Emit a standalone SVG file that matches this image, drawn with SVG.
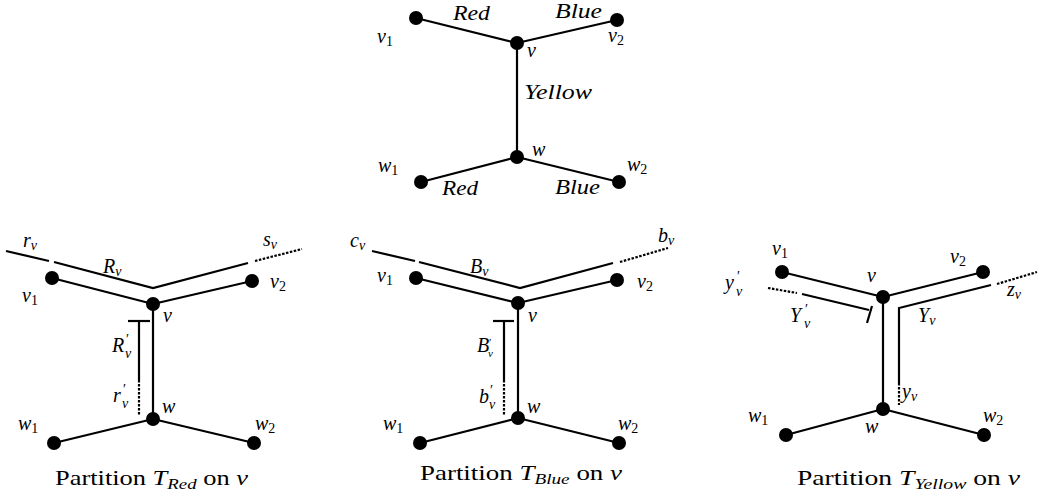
<svg xmlns="http://www.w3.org/2000/svg" width="1038" height="496" viewBox="0 0 1038 496">
<style>
.e{stroke:#000;stroke-width:2.2;fill:none;stroke-linecap:butt}
.d{stroke:#000;stroke-width:2.2;fill:none;stroke-dasharray:2.5,1.5}
.n{fill:#000}
.m{font-family:'Liberation Serif','DejaVu Serif','Times New Roman',serif;font-style:italic;font-size:20px;fill:#000}
.s{font-size:14px;font-style:normal}
.si{font-size:14px}
.p{font-size:14px;font-style:normal}
.c{font-family:'Liberation Serif','DejaVu Serif','Times New Roman',serif;font-size:21px;fill:#000}
</style>
<rect width="1038" height="496" fill="#fff"/>
<g id="connectors">
<line class="e" x1="416" y1="18" x2="517" y2="43"/>
<line class="e" x1="517" y1="43" x2="617" y2="20"/>
<line class="e" x1="517" y1="43" x2="517" y2="157"/>
<line class="e" x1="517" y1="157" x2="421" y2="182"/>
<line class="e" x1="517" y1="157" x2="619" y2="182"/>
<line class="e" x1="52" y1="278" x2="153" y2="304"/>
<line class="e" x1="153" y1="304" x2="252" y2="281"/>
<line class="e" x1="153" y1="304" x2="153" y2="419"/>
<line class="e" x1="153" y1="419" x2="54" y2="443"/>
<line class="e" x1="153" y1="419" x2="254" y2="443"/>
<line class="e" x1="6" y1="251" x2="49" y2="261"/>
<polyline class="e" points="54,262 153,288 248,263"/>
<line class="d" x1="255" y1="261" x2="302" y2="249"/>
<line class="e" x1="139" y1="321" x2="139" y2="380"/>
<line class="d" x1="139" y1="380" x2="139" y2="415"/>
<line class="e" x1="128" y1="321" x2="150" y2="321"/>
<line class="e" x1="416" y1="278" x2="518" y2="303"/>
<line class="e" x1="518" y1="303" x2="617" y2="280"/>
<line class="e" x1="518" y1="303" x2="518" y2="418"/>
<line class="e" x1="518" y1="418" x2="420" y2="443"/>
<line class="e" x1="518" y1="418" x2="619" y2="443"/>
<line class="e" x1="372" y1="251" x2="415" y2="261"/>
<polyline class="e" points="419,262 520,288 613,263"/>
<line class="d" x1="620" y1="262" x2="668" y2="248"/>
<line class="e" x1="504" y1="321" x2="504" y2="380"/>
<line class="d" x1="504" y1="380" x2="504" y2="415"/>
<line class="e" x1="493" y1="321" x2="514" y2="321"/>
<line class="e" x1="782" y1="272" x2="883" y2="297"/>
<line class="e" x1="883" y1="297" x2="983" y2="272"/>
<line class="e" x1="883" y1="297" x2="883" y2="409"/>
<line class="e" x1="883" y1="409" x2="786" y2="435"/>
<line class="e" x1="883" y1="409" x2="984" y2="435"/>
<line class="d" x1="768" y1="288" x2="797" y2="293"/>
<line class="e" x1="802" y1="294" x2="869" y2="310"/>
<line class="e" x1="872" y1="306" x2="867" y2="323"/>
<polyline class="e" points="899,383 899,308 991,285"/>
<line class="d" x1="899" y1="383" x2="899" y2="405"/>
<line class="d" x1="997" y1="284" x2="1037" y2="272"/>
</g>
<g id="top-nodes">
<g id="t-v1"><circle class="n" cx="416" cy="18" r="7"/><text class="m" x="377" y="43">v<tspan class="s" dy="3">1</tspan></text></g>
<g id="t-v"><circle class="n" cx="517" cy="43" r="7"/><text class="m" x="527" y="57">v</text></g>
<g id="t-v2"><circle class="n" cx="617" cy="20" r="7"/><text class="m" x="608" y="42">v<tspan class="s" dy="3">2</tspan></text></g>
<g id="t-w"><circle class="n" cx="517" cy="157" r="7"/><text class="m" x="532" y="156">w</text></g>
<g id="t-w1"><circle class="n" cx="421" cy="182" r="7"/><text class="m" x="378" y="172">w<tspan class="s" dy="3">1</tspan></text></g>
<g id="t-w2"><circle class="n" cx="619" cy="182" r="7"/><text class="m" x="627" y="171">w<tspan class="s" dy="3">2</tspan></text></g>
<text class="m" x="453" y="20" textLength="37" lengthAdjust="spacingAndGlyphs">Red</text>
<text class="m" x="555" y="18" textLength="47" lengthAdjust="spacingAndGlyphs">Blue</text>
<text class="m" x="524" y="99" textLength="68" lengthAdjust="spacingAndGlyphs">Yellow</text>
<text class="m" x="442" y="195" textLength="36" lengthAdjust="spacingAndGlyphs">Red</text>
<text class="m" x="555" y="194" textLength="45" lengthAdjust="spacingAndGlyphs">Blue</text>
</g>
<g id="left-nodes">
<g id="l-v1"><circle class="n" cx="52" cy="278" r="7"/><text class="m" x="22" y="302">v<tspan class="s" dy="3">1</tspan></text></g>
<g id="l-v"><circle class="n" cx="153" cy="304" r="7"/><text class="m" x="163" y="322">v</text></g>
<g id="l-v2"><circle class="n" cx="252" cy="281" r="7"/><text class="m" x="270" y="288">v<tspan class="s" dy="3">2</tspan></text></g>
<g id="l-w"><circle class="n" cx="153" cy="419" r="7"/><text class="m" x="162" y="413">w</text></g>
<g id="l-w1"><circle class="n" cx="54" cy="443" r="7"/><text class="m" x="18" y="430">w<tspan class="s" dy="3">1</tspan></text></g>
<g id="l-w2"><circle class="n" cx="254" cy="443" r="7"/><text class="m" x="255" y="430">w<tspan class="s" dy="3">2</tspan></text></g>
<text class="m" x="23" y="247">r<tspan class="si" dy="3">v</tspan></text>
<text class="m" x="263" y="246">s<tspan class="si" dy="3">v</tspan></text>
<text class="m" x="103" y="273">R<tspan class="si" dy="3">v</tspan></text>
<text class="m" x="112" y="352">R<tspan class="p" x="126" dy="-8">′</tspan><tspan class="si" x="125" dy="14">v</tspan></text>
<text class="m" x="113" y="402">r<tspan class="p" x="123" dy="-8">′</tspan><tspan class="si" x="122" dy="14">v</tspan></text>
<text class="c" x="55" y="485" textLength="193" lengthAdjust="spacingAndGlyphs">Partition <tspan font-style="italic">T</tspan><tspan font-style="italic" font-size="15" dy="4">Red</tspan><tspan dy="-4"> on </tspan><tspan font-style="italic">v</tspan></text>
</g>
<g id="mid-nodes">
<g id="m-v1"><circle class="n" cx="416" cy="278" r="7"/><text class="m" x="377" y="282">v<tspan class="s" dy="3">1</tspan></text></g>
<g id="m-v"><circle class="n" cx="518" cy="303" r="7"/><text class="m" x="528" y="322">v</text></g>
<g id="m-v2"><circle class="n" cx="617" cy="280" r="7"/><text class="m" x="637" y="288">v<tspan class="s" dy="3">2</tspan></text></g>
<g id="m-w"><circle class="n" cx="518" cy="418" r="7"/><text class="m" x="527" y="413">w</text></g>
<g id="m-w1"><circle class="n" cx="420" cy="443" r="7"/><text class="m" x="383" y="430">w<tspan class="s" dy="3">1</tspan></text></g>
<g id="m-w2"><circle class="n" cx="619" cy="443" r="7"/><text class="m" x="618" y="430">w<tspan class="s" dy="3">2</tspan></text></g>
<text class="m" x="350" y="247">c<tspan class="si" dy="3">v</tspan></text>
<text class="m" x="658" y="242">b<tspan class="si" dy="3">v</tspan></text>
<text class="m" x="470" y="273">B<tspan class="si" dy="3">v</tspan></text>
<text class="m" x="477" y="352" font-size="15">B<tspan x="489" dy="-6" font-size="11" font-style="normal">′</tspan><tspan x="488" dy="11" font-size="11">v</tspan></text>
<text class="m" x="479" y="403">b<tspan class="p" x="490" dy="-8">′</tspan><tspan class="si" x="489" dy="14">v</tspan></text>
<text class="c" x="420" y="480" textLength="202" lengthAdjust="spacingAndGlyphs">Partition <tspan font-style="italic">T</tspan><tspan font-style="italic" font-size="15" dy="4">Blue</tspan><tspan dy="-4"> on </tspan><tspan font-style="italic">v</tspan></text>
</g>
<g id="right-nodes">
<g id="r-v1"><circle class="n" cx="782" cy="272" r="7"/><text class="m" x="772" y="255">v<tspan class="s" dy="3">1</tspan></text></g>
<g id="r-v"><circle class="n" cx="883" cy="297" r="7"/><text class="m" x="867" y="282">v</text></g>
<g id="r-v2"><circle class="n" cx="983" cy="272" r="7"/><text class="m" x="950" y="263">v<tspan class="s" dy="3">2</tspan></text></g>
<g id="r-w"><circle class="n" cx="883" cy="409" r="7"/><text class="m" x="865" y="433">w</text></g>
<g id="r-w1"><circle class="n" cx="786" cy="435" r="7"/><text class="m" x="748" y="422">w<tspan class="s" dy="3">1</tspan></text></g>
<g id="r-w2"><circle class="n" cx="984" cy="435" r="7"/><text class="m" x="983" y="422">w<tspan class="s" dy="3">2</tspan></text></g>
<text class="m" x="725" y="289">y<tspan class="p" x="737" dy="-8">′</tspan><tspan class="si" x="736" dy="15">v</tspan></text>
<text class="m" x="790" y="322">Y<tspan class="p" x="805" dy="-8">′</tspan><tspan class="si" x="804" dy="14">v</tspan></text>
<text class="m" x="918" y="322">Y<tspan class="si" dy="3">v</tspan></text>
<text class="m" x="1007" y="296">z<tspan class="si" dy="3">v</tspan></text>
<text class="m" x="902" y="398">y<tspan class="si" dy="3">v</tspan></text>
<text class="c" x="797" y="485" textLength="223" lengthAdjust="spacingAndGlyphs">Partition <tspan font-style="italic">T</tspan><tspan font-style="italic" font-size="15" dy="4">Yellow</tspan><tspan dy="-4"> on </tspan><tspan font-style="italic">v</tspan></text>
</g>
</svg>
